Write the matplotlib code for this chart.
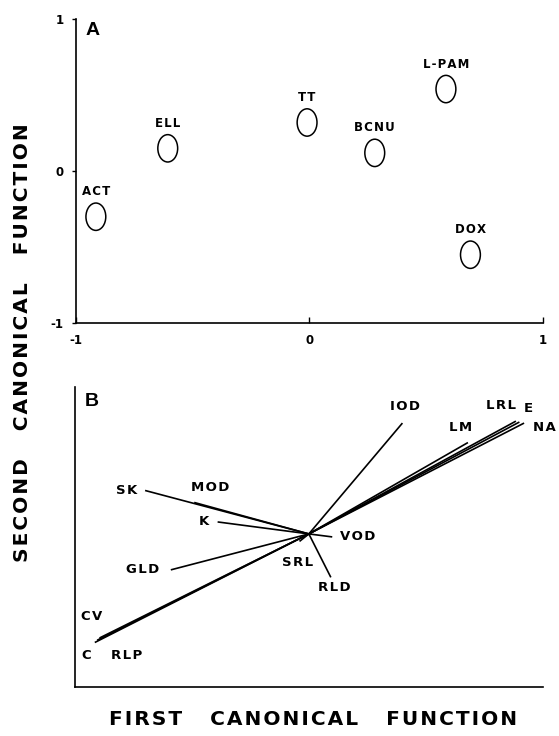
import matplotlib
matplotlib.use("Agg")
import matplotlib.pyplot as plt
from matplotlib.patches import Ellipse

plt.rcParams['font.family'] = ['DejaVu Sans']
plt.rcParams['font.weight'] = 'bold'

# panel A: group centroids
drugs = ["ACT", "ELL", "TT", "BCNU", "L-PAM", "DOX"]
drug_x = [-0.915, -0.607, -0.01, 0.28, 0.585, 0.69]
drug_y = [-0.30, 0.15, 0.32, 0.12, 0.54, -0.55]

# panel B: variable vectors from the origin
variables = ["SK", "MOD", "K", "GLD", "C", "RLP", "CV", "IOD", "LM", "LRL", "E", "NA", "VOD", "SRL", "RLD"]
vec_x = [-0.70, -0.49, -0.39, -0.59, -0.915, -0.905, -0.895, 0.40, 0.68, 0.885, 0.90, 0.92, 0.10, -0.04, 0.094]
vec_y = [0.29, 0.21, 0.08, -0.24, -0.725, -0.71, -0.695, 0.74, 0.61, 0.753, 0.747, 0.74, -0.02, -0.05, -0.29]
label_x = [-0.78, -0.42, -0.45, -0.71, -0.95, -0.78, -0.93, 0.41, 0.65, 0.82, 0.94, 1.005, 0.21, -0.05, 0.11]
label_y = [0.29, 0.31, 0.08, -0.24, -0.81, -0.81, -0.55, 0.85, 0.71, 0.86, 0.84, 0.71, -0.02, -0.19, -0.36]


def spaced(word):
    # slightly letter-spaced lettering like the original typesetting
    return "\u200a".join(word)


fig = plt.figure(figsize=(5.59, 7.36), dpi=100)
axA = fig.add_axes([0.136, 0.561, 0.835, 0.413])
axB = fig.add_axes([0.134, 0.067, 0.837, 0.407])

# --- panel A ---
for name, x, y in zip(drugs, drug_x, drug_y):
    axA.add_patch(Ellipse((x, y), 0.085, 0.18, fill=False, lw=1.1, ec='black'))
    axA.annotate(spaced(name), (x, y), xytext=(0, 18), textcoords='offset points',
                 ha='center', va='center', fontsize=8.5, fontweight='bold')
axA.set_xlim(-1, 1)
axA.set_ylim(-1, 1)
axA.set_xticks([-1, 0, 1])
axA.set_yticks([-1, 0, 1])
axA.set_xticklabels(["-1", "0", "1"])
axA.set_yticklabels(["-1", "0", "1"])
axA.tick_params(axis='x', direction='in', length=4, pad=8, labelsize=8.5, width=1)
axA.tick_params(axis='y', direction='out', length=3, pad=6, labelsize=8.5, width=1)
for s in ['top', 'right']:
    axA.spines[s].set_visible(False)
for s in ['left', 'bottom']:
    axA.spines[s].set_linewidth(1.2)
axA.text(0.02, 0.99, "A", transform=axA.transAxes, ha='left', va='top',
         fontsize=14, family=['Liberation Sans Narrow', 'Liberation Sans'], fontweight='bold')

# --- panel B ---
for name, x, y, lx, ly in zip(variables, vec_x, vec_y, label_x, label_y):
    axB.plot([0, x], [0, y], color='black', lw=1.2, solid_capstyle='butt')
    axB.text(lx, ly, spaced(name), ha='center', va='center', fontsize=9.5,
             fontweight='bold', clip_on=False)
axB.set_xlim(-1, 1)
axB.set_ylim(-1.02, 0.98)
axB.set_xticks([])
axB.set_yticks([])
for s in ['top', 'right']:
    axB.spines[s].set_visible(False)
for s in ['left', 'bottom']:
    axB.spines[s].set_linewidth(1.2)
axB.text(0.02, 0.98, "B", transform=axB.transAxes, ha='left', va='top',
         fontsize=14, family=['Liberation Sans Narrow', 'Liberation Sans'], fontweight='bold')

gap = "    "
fig.text(0.56, 0.022, gap.join(spaced(w) for w in ["FIRST", "CANONICAL", "FUNCTION"]),
         ha='center', va='center', fontsize=14.5, fontweight='bold')
fig.text(0.04, 0.534, gap.join(spaced(w) for w in ["SECOND", "CANONICAL", "FUNCTION"]),
         ha='center', va='center', rotation=90, fontsize=14.5, fontweight='bold')

fig.savefig("out.png", dpi=100)
